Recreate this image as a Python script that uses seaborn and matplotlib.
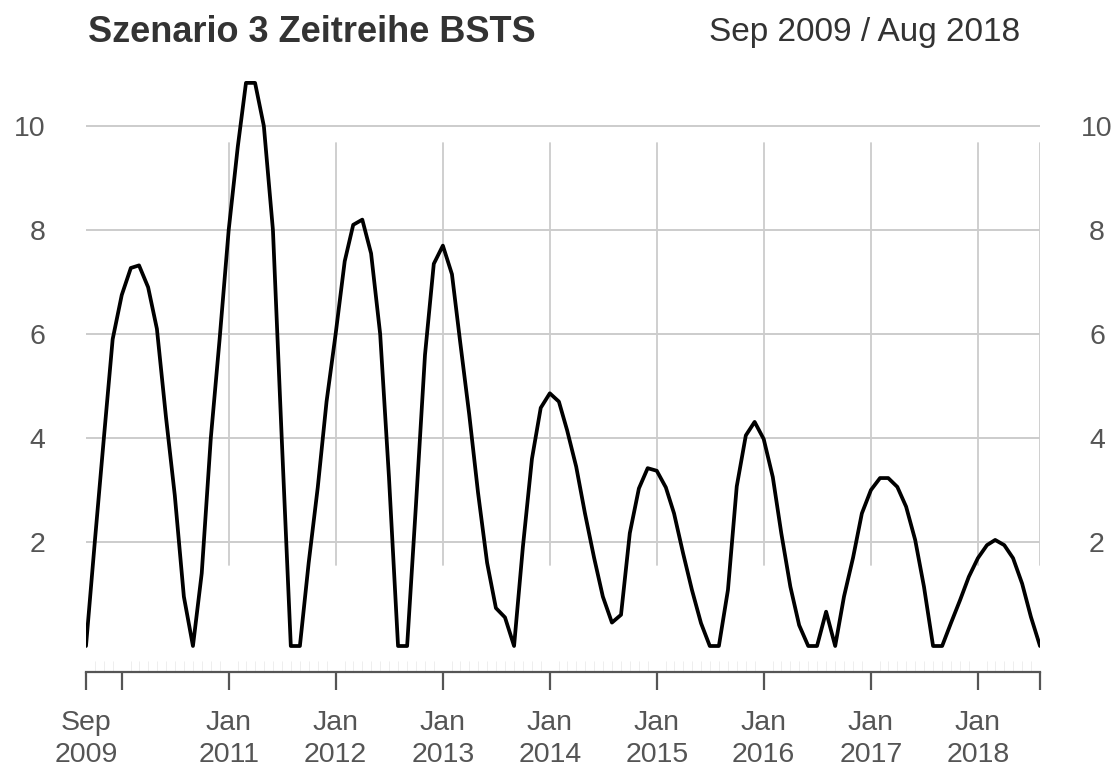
import numpy as np
import pandas as pd
import matplotlib
matplotlib.use("Agg")
import matplotlib.pyplot as plt
import matplotlib.dates as mdates
import matplotlib.transforms as mtrans
import seaborn as sns

# ---- data (monthly, Sep 2009 .. Aug 2018) ----
values = [
    0.0, 2.0, 4.0, 5.9, 6.75, 7.27, 7.32, 6.9, 6.1, 4.4, 2.9, 0.95,   # Sep09-Aug10
    0.0, 1.4, 4.0, 5.9, 8.0, 9.6, 10.83, 10.83, 10.0, 8.0, 4.0, 0.0,  # Sep10-Aug11
    0.0, 1.6, 3.05, 4.7, 6.0, 7.4, 8.1, 8.2, 7.55, 6.0, 3.25, 0.0,    # Sep11-Aug12
    0.0, 2.7, 5.6, 7.35, 7.7, 7.15, 5.85, 4.45, 2.95, 1.6, 0.73, 0.55, # Sep12-Aug13
    0.0, 1.9, 3.6, 4.58, 4.86, 4.7, 4.15, 3.45, 2.55, 1.7, 0.95, 0.45, # Sep13-Aug14
    0.6, 2.17, 3.03, 3.42, 3.37, 3.05, 2.55, 1.78, 1.08, 0.44, 0.0, 0.0, # Sep14-Aug15
    1.08, 3.07, 4.05, 4.31, 3.98, 3.25, 2.17, 1.14, 0.4, 0.0, 0.0, 0.66, # Sep15-Aug16
    0.0, 0.95, 1.7, 2.55, 3.0, 3.23, 3.23, 3.06, 2.68, 2.04, 1.14, 0.0,  # Sep16-Aug17
    0.0, 0.44, 0.88, 1.33, 1.69, 1.94, 2.04, 1.94, 1.69, 1.2, 0.56, 0.0, # Sep17-Aug18
]
start_month = "2009-09-01"
title_text = "Szenario 3 Zeitreihe BSTS"
period_text = "Sep 2009 / Aug 2018"
y_ticks = [2, 4, 6, 8, 10]
x_tick_dates = ["2009-09-01", "2010-01-01", "2011-01-01", "2012-01-01", "2013-01-01",
                "2014-01-01", "2015-01-01", "2016-01-01", "2017-01-01", "2018-01-01",
                "2018-08-01"]
x_tick_labels = ["Sep\n2009", "", "Jan\n2011", "Jan\n2012", "Jan\n2013", "Jan\n2014",
                 "Jan\n2015", "Jan\n2016", "Jan\n2017", "Jan\n2018", ""]
v_grid_dates = ["2011-01-01", "2012-01-01", "2013-01-01", "2014-01-01", "2015-01-01",
                "2016-01-01", "2017-01-01", "2018-01-01", "2018-08-01"]

dates = pd.date_range(start_month, periods=len(values), freq="MS")
df = pd.DataFrame({"date": dates, "value": values})

sns.set_theme(style="white")
plt.rcParams["font.family"] = ["Liberation Sans", "DejaVu Sans"]

W, H = 1118, 767
fig = plt.figure(figsize=(W / 100, H / 100), dpi=100)
ax = fig.add_axes([86 / W, 1 - 672 / H, (1040 - 86) / W, (672 - 60) / H])

y_lo, y_hi = -0.5, 11.27
ax.set_ylim(y_lo, y_hi)
ax.set_xlim(dates[0], dates[-1])

grid_c = "#cccccc"
for yt in y_ticks:
    ax.axhline(yt, color=grid_c, lw=1.4, zorder=0)
vg_lo, vg_hi = 1.55, 9.67
f_lo = (vg_lo - y_lo) / (y_hi - y_lo)
f_hi = (vg_hi - y_lo) / (y_hi - y_lo)
for d in pd.to_datetime(v_grid_dates):
    ax.axvline(d, ymin=f_lo, ymax=f_hi, color=grid_c, lw=1.3, zorder=0)

sns.lineplot(data=df, x="date", y="value", color="black", lw=2.7, ax=ax, zorder=3)
ax.set_xlabel("")
ax.set_ylabel("")

for s in ["top", "left", "right"]:
    ax.spines[s].set_visible(False)
ax.spines["bottom"].set_color("#555555")
ax.spines["bottom"].set_linewidth(1.6)

txt_c = "#555555"
ax.set_xticks(pd.to_datetime(x_tick_dates))
ax.set_xticklabels(x_tick_labels, fontsize=20.5, color=txt_c, linespacing=1.3)
ax.xaxis.set_minor_locator(mdates.MonthLocator())
ax.tick_params(axis="x", which="both", bottom=True)
ax.tick_params(axis="x", which="major", direction="out", length=13, width=1.6,
               color="#555555", pad=14)
ax.tick_params(axis="x", which="minor", direction="in", length=8, width=0.7,
               color="#eeeeee")

ax.set_yticks(y_ticks)
ax.set_yticklabels([str(v) for v in y_ticks], fontsize=20.5, color=txt_c)
ax.tick_params(axis="y", which="both", length=0, left=False, right=False,
               labelleft=True, labelright=True, pad=29)
for t in ax.yaxis.get_major_ticks():
    t.label2.set_horizontalalignment("center")
    t.label2.set_transform(t.label2.get_transform() +
                           mtrans.ScaledTranslation(57 / 100 - 29 / 72, 0, fig.dpi_scale_trans))

fig.text(88 / W, 1 - 33 / H, title_text, fontsize=26, fontweight="bold",
         color="#333333", ha="left", va="center")
fig.text(1020 / W, 1 - 33 / H, period_text, fontsize=24, color="#333333",
         ha="right", va="center")

fig.savefig("out.png", dpi=100)
